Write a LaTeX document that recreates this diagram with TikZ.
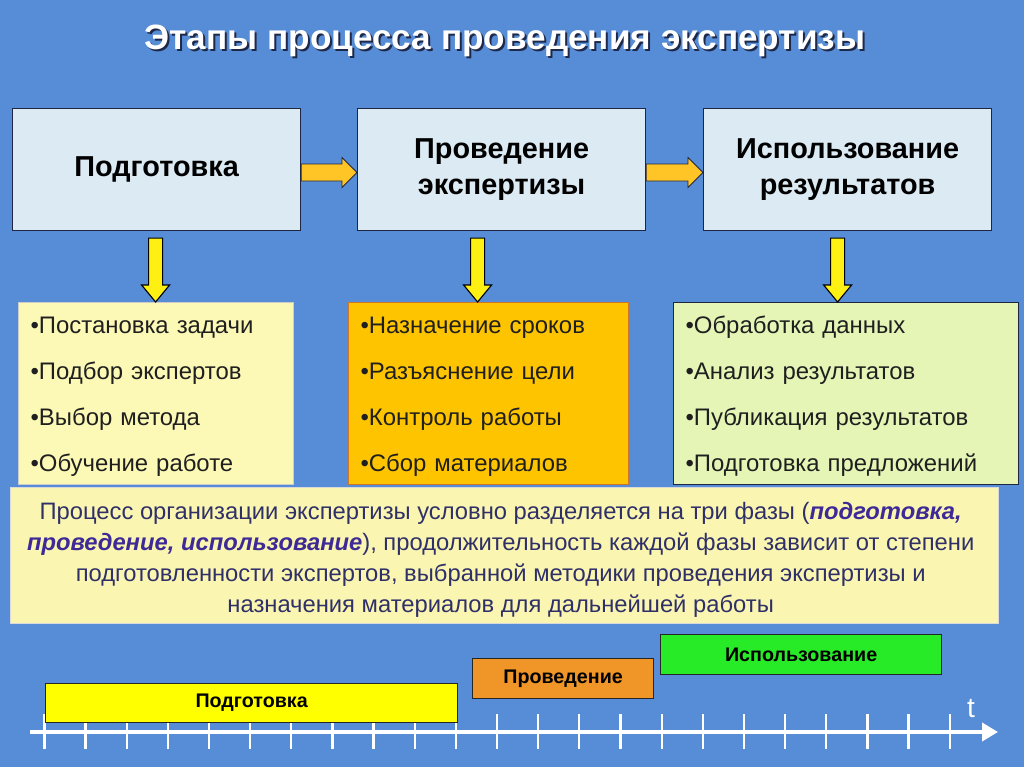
\documentclass[tikz,border=0pt]{standalone}
\usepackage{fontspec}
\setmainfont{Liberation Sans}
\usetikzlibrary{calc,arrows.meta}
\definecolor{slidebg}{RGB}{86,141,214}
\definecolor{stagefill}{RGB}{219,234,243}
\definecolor{stageline}{RGB}{30,38,66}
\definecolor{hfill}{RGB}{255,197,38}
\definecolor{vfill}{RGB}{255,240,20}
\definecolor{prepfill}{RGB}{252,248,182}
\definecolor{condfill}{RGB}{255,196,0}
\definecolor{condline}{RGB}{205,120,40}
\definecolor{usefill}{RGB}{228,245,182}
\definecolor{notefill}{RGB}{250,246,178}
\definecolor{notetext}{RGB}{48,48,104}
\definecolor{noteem}{RGB}{62,42,150}
\definecolor{barprep}{RGB}{255,255,0}
\definecolor{barcond}{RGB}{240,150,40}
\definecolor{baruse}{RGB}{40,235,40}
\definecolor{titleshade}{RGB}{30,40,72}

\begin{document}
\begin{tikzpicture}[x=0.025cm,y=-0.025cm,
  stage/.style={draw=stageline,line width=0.8pt,fill=stagefill,anchor=north west,
    minimum width=7.2cm,minimum height=3.05cm,inner sep=0pt,align=center,
    font=\bfseries\fontsize{20.5}{25}\selectfont},
  tasklist/.style={anchor=north west,line width=0.8pt,minimum height=4.55cm,
    inner xsep=0.3cm,inner ysep=0pt,align=left,text=black!88,
    font=\fontsize{17}{32.7}\selectfont},
  phase/.style={draw=black!85,line width=0.8pt,anchor=north west,inner sep=0pt,
    minimum height=1cm,font=\bfseries\fontsize{14}{16}\selectfont},
  harrow/.style={fill=hfill,draw=stageline,line width=0.6pt},
  varrow/.style={fill=vfill,draw=black,line width=0.8pt},
  tick/.style={white,line width=1.6pt},
  axisline/.style={white,line width=2.8pt,-{Triangle[length=0.4cm,width=0.45cm]}}]

  \useasboundingbox[fill=slidebg] (0,0) rectangle (1024,767);

  % title with shadow
  \node[titleshade,font=\bfseries\fontsize{25}{29}\selectfont] (titleshadow) at (507,43) {Этапы процесса проведения экспертизы};
  \node[white,font=\bfseries\fontsize{25}{29}\selectfont] (title) at (505,41) {Этапы процесса проведения экспертизы};

  % three stages
  \node[stage] (prep) at (12,108) {\raisebox{4pt}{Подготовка}};
  \node[stage] (cond) at (357,108) {Проведение\\экспертизы};
  \node[stage] (use) at (703,108) {Использование\\результатов};

  % horizontal block arrows
  \foreach \a/\b in {prep/cond, cond/use} {
    \filldraw[harrow] ($(\a.east)+(0,-5.5)$) -- ($(\b.west)+(-15,-5.5)$) -- ($(\b.west)+(-15,-12)$)
      -- ($(\b.west)+(0,3)$) -- ($(\b.west)+(-15,18)$) -- ($(\b.west)+(-15,11.5)$)
      -- ($(\a.east)+(0,11.5)$) -- cycle;
  }

  % task lists
  \node[tasklist,fill=prepfill,draw=white!80!black,text width=6.275cm] (preplist) at (18,302)
    {\rule{0pt}{16pt}•Постановка задачи\\•Подбор экспертов\\•Выбор метода\\•Обучение работе};
  \node[tasklist,fill=condfill,draw=condline,text width=6.4cm] (condlist) at (348,302)
    {\rule{0pt}{16pt}•Назначение сроков\\•Разъяснение цели\\•Контроль работы\\•Сбор материалов};
  \node[tasklist,fill=usefill,draw=stageline,text width=8.025cm] (uselist) at (673,302)
    {\rule{0pt}{16pt}•Обработка данных\\•Анализ результатов\\•Публикация результатов\\•Подготовка предложений};

  % vertical block arrows
  \coordinate (s1) at ($(prep.south)+(-1,7)$);
  \coordinate (s2) at ($(cond.south)+(-24,7)$);
  \coordinate (s3) at ($(use.south)+(-10,7)$);
  \foreach \s/\t in {s1/preplist, s2/condlist, s3/uselist} {
    \coordinate (tip) at (\s |- \t.north);
    \filldraw[varrow] ($(\s)+(-7,0)$) -- ($(tip)+(-7,-17)$) -- ($(tip)+(-14,-17)$) -- (tip)
      -- ($(tip)+(14,-17)$) -- ($(tip)+(7,-17)$) -- ($(\s)+(7,0)$) -- cycle;
  }

  % note
  \node[anchor=north west,fill=notefill,draw=white!85!black,line width=0.8pt,
    minimum width=24.7cm,minimum height=3.4cm,inner sep=0pt] (note) at (10,487) {};
  \node[align=center,text=notetext,font=\fontsize{16.9}{22}\selectfont] (notetxt) at ($(note.center)+(-4,4)$)
    {Процесс организации экспертизы условно разделяется на три фазы ({\color{noteem}\bfseries\itshape подготовка,}\\
     {\color{noteem}\bfseries\itshape проведение, использование}), продолжительность каждой фазы зависит от степени\\
     подготовленности экспертов, выбранной методики проведения экспертизы и\\
     назначения материалов для дальнейшей работы};

  % time axis
  \coordinate (ax0) at (30,732);
  \coordinate (ax1) at (998,732);
  \draw[axisline] (ax0) -- (ax1);
  \foreach \i in {0,...,22} { \draw[tick] ({44.4+41.15*\i},714) -- ++(0,35); }
  \node[phase,fill=barprep,minimum width=10.3cm,minimum height=0.975cm] (barprep) at (45,683) {Подготовка};
  \node[phase,fill=barcond,minimum width=4.525cm] (barcond) at (472,658) {Проведение};
  \node[phase,fill=baruse,minimum width=7.025cm] (baruse) at (660,634) {Использование};
  \node[white,font=\fontsize{20}{22}\selectfont] (tname) at (971,709) {t};
\end{tikzpicture}
\end{document}
